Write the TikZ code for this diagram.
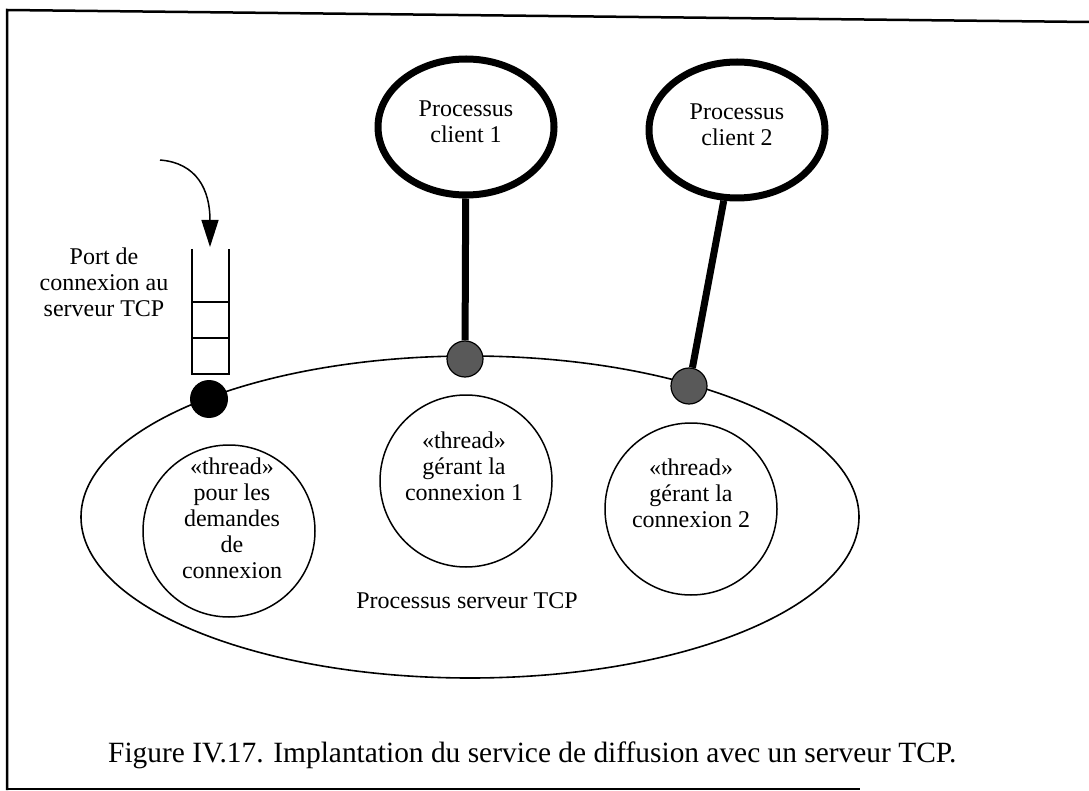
\documentclass[tikz,border=0pt]{standalone}
\usepackage{fontspec}
\setmainfont{Liberation Serif}
\usetikzlibrary{shapes.geometric,arrows.meta}
\begin{document}
\begin{tikzpicture}[x=1pt,y=-1pt,
  txt/.style={font=\fontsize{24}{26}\selectfont, align=center, inner sep=0pt},
  client/.style={ellipse, draw, line width=7pt, minimum width=176pt, minimum height=136pt, inner sep=0pt},
  thr/.style={circle, draw, line width=1.5pt, minimum size=172pt, inner sep=0pt},
  pin/.style={circle, draw=black, fill=black!65, line width=1.2pt, minimum size=36pt, inner sep=0pt},
  blackpin/.style={circle, fill=black, minimum size=38pt, inner sep=0pt},
  stem/.style={line width=7pt},
  boxline/.style={line width=2.5pt},
  queueline/.style={line width=2pt}]
\useasboundingbox (0,0) rectangle (1089,791);

% frame
\draw[boxline] (1089,22) -- (7,10) -- (7,790);
\draw[boxline] (7,789) -- (860,789);

% server process
\node[ellipse, draw, line width=1.6pt, minimum width=778pt, minimum height=322pt, inner sep=0pt] (srv) at (470,517) {};
\node[txt, anchor=base] (srvlbl) at (467,608) {Processus serveur TCP};

% threads
\node[thr] (t0) at (229,531) {};
\node[thr] (t1) at (466,481) {};
\node[thr] (t2) at (691,509) {};
\node[txt] (t0lbl) at (232,518.3) {«thread»\\pour les\\demandes\\de\\connexion};
\node[txt] (t1lbl) at (464,465.8) {«thread»\\gérant la\\connexion 1};
\node[txt] (t2lbl) at (691,492.8) {«thread»\\gérant la\\connexion 2};

% clients
\node[client] (c1) at (466,127) {};
\node[client] (c2) at (737,130) {};
\node[txt] (c1lbl) at (466,121.3) {Processus\\client 1};
\node[txt] (c2lbl) at (737,124.3) {Processus\\client 2};

% pins
\node[pin] (p1) at (465,359) {};
\node[pin] (p2) at (689,386) {};
\node[blackpin] (p0) at (209,399) {};

% stems
\draw[stem] (c1) -- (p1);
\draw[stem] (c2) -- (p2);

% connection port queue
\draw[queueline] (192,249) -- (192,374) -- (229,374) -- (229,249);
\draw[queueline] (192,302) -- (229,302);
\draw[queueline] (192,338) -- (229,338);
\node[txt] (portlbl) at (104,281.8) {Port de\\connexion au\\serveur TCP};

% incoming arrow
\coordinate (astart) at (160,160);
\coordinate (qtop) at (210,247);
\draw[line width=1.5pt, -{Triangle[length=27pt,width=17pt]}] (astart) .. controls (197,163) and (210,190) .. (qtop);

% caption
\node[font=\fontsize{29.4}{32}\selectfont, anchor=base west, inner sep=0pt] (cap) at (108,762) {Figure IV.17. Implantation du service de diffusion avec un serveur TCP.};
\end{tikzpicture}
\end{document}
